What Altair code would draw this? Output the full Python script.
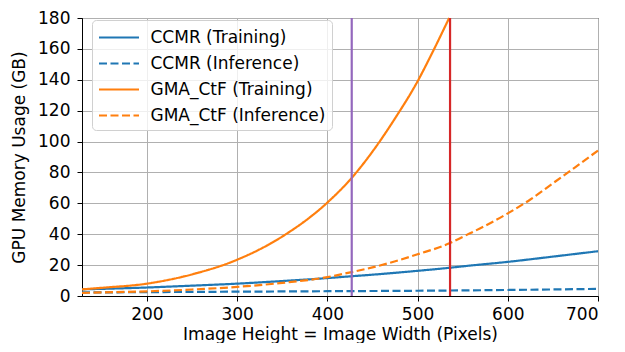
import altair as alt
import pandas as pd

# ---- data ----
series_names = ["CCMR (Training)", "CCMR (Inference)", "GMA_CtF (Training)", "GMA_CtF (Inference)"]
series_colors = ["#1f77b4", "#1f77b4", "#ff7f0e", "#ff7f0e"]
series_dashes = [[1, 0], [8, 3.5], [1, 0], [8, 3.5]]

ccmr_train_x = [128, 200, 250, 300, 350, 400, 427, 450, 500, 536, 550, 600, 650, 700]
ccmr_train_y = [4.3, 5.5, 6.7, 8.0, 9.7, 11.6, 12.8, 13.8, 16.3, 18.3, 19.2, 22.1, 25.5, 29.0]

ccmr_inf_x = [128, 200, 300, 400, 500, 600, 700]
ccmr_inf_y = [2.3, 2.5, 2.8, 3.1, 3.4, 3.9, 4.6]

gma_train_x = [128, 150, 200, 250, 300, 350, 400, 427, 450, 475, 500, 515, 535]
gma_train_y = [4.3, 5.3, 8.0, 14.0, 23.5, 38.5, 60.5, 76.5, 93.5, 115.0, 139.0, 156.0, 180.0]

gma_inf_x = [128, 150, 200, 250, 300, 350, 400, 427, 450, 500, 536, 550, 575, 600, 625, 650, 675, 700]
gma_inf_y = [2.0, 2.3, 3.0, 4.2, 5.9, 8.5, 12.2, 15.5, 18.5, 27.0, 34.3, 38.3, 45.5, 53.5, 62.5, 73.0, 83.5, 94.2]

vline_x = [427, 536]
vline_colors = ["#9467bd", "#d62728"]

x_ticks = [200, 300, 400, 500, 600, 700]
y_ticks = [0, 20, 40, 60, 80, 100, 120, 140, 160, 180]

# ---- build table ----
rows = []
for name, xs, ys in [
    (series_names[0], ccmr_train_x, ccmr_train_y),
    (series_names[1], ccmr_inf_x, ccmr_inf_y),
    (series_names[2], gma_train_x, gma_train_y),
    (series_names[3], gma_inf_x, gma_inf_y),
]:
    for i, (xv, yv) in enumerate(zip(xs, ys)):
        rows.append({"series": name, "x": xv, "y": yv, "order": i})
df = pd.DataFrame(rows)

FONT = "DejaVu Sans"
xscale = alt.Scale(domain=[128, 700], nice=False, zero=False)
yscale = alt.Scale(domain=[0, 180], nice=False)

xaxis = alt.Axis(title="Image Height = Image Width (Pixels)", values=x_ticks,
                 labelPadding=5, titleY=43, titleBaseline="alphabetic")
yaxis = alt.Axis(title="GPU Memory Usage (GB)", values=y_ticks, tickCount=10,
                 labelOverlap=False, labelPadding=7, titlePadding=9)

legend = alt.Legend(title=None, orient="none", legendX=10, legendY=2,
                    symbolType="M-2,0H2", symbolSize=400,
                    symbolStrokeWidth=2.2, symbolOffset=9.5,
                    labelOffset=20, labelFontSize=17, labelFont=FONT,
                    labelColor="black", rowPadding=6, padding=6,
                    fillColor="rgba(255,255,255,0.8)",
                    strokeColor="#d0d0d0", cornerRadius=4, labelLimit=400)

lines = alt.Chart(df).mark_line(strokeWidth=2.2, interpolate="monotone").encode(
    x=alt.X("x:Q", scale=xscale, axis=xaxis),
    y=alt.Y("y:Q", scale=yscale, axis=yaxis),
    color=alt.Color("series:N", sort=series_names,
                    scale=alt.Scale(domain=series_names, range=series_colors),
                    legend=legend),
    strokeDash=alt.StrokeDash("series:N", sort=series_names,
                              scale=alt.Scale(domain=series_names, range=series_dashes),
                              legend=legend),
    order="order:Q",
)

vlayers = []
for xv, cv in zip(vline_x, vline_colors):
    vdf = pd.DataFrame({"x": [xv], "y0": [0], "y1": [180]})
    vlayers.append(
        alt.Chart(vdf).mark_rule(strokeWidth=2.2, color=cv).encode(
            x=alt.X("x:Q", scale=xscale, axis=xaxis),
            y=alt.Y("y0:Q", scale=yscale, axis=yaxis),
            y2="y1:Q",
        )
    )

chart = alt.layer(lines, *vlayers).properties(
    width=516, height=278,
    autosize=alt.AutoSizeParams(type="none"),
    padding={"left": 74, "top": 10, "right": 19, "bottom": 47},
).configure_view(
    stroke="black", strokeWidth=1
).configure_axis(
    grid=True, gridColor="#b0b0b0", gridWidth=1,
    domainColor="black", domainWidth=1,
    tickColor="black", tickSize=5, tickWidth=1,
    labelFont=FONT, labelFontSize=17, labelColor="black",
    titleFont=FONT, titleFontSize=17, titleFontWeight="normal", titleColor="black",
)

chart.save("out.html", embed_options={"renderer": "svg", "actions": False})
